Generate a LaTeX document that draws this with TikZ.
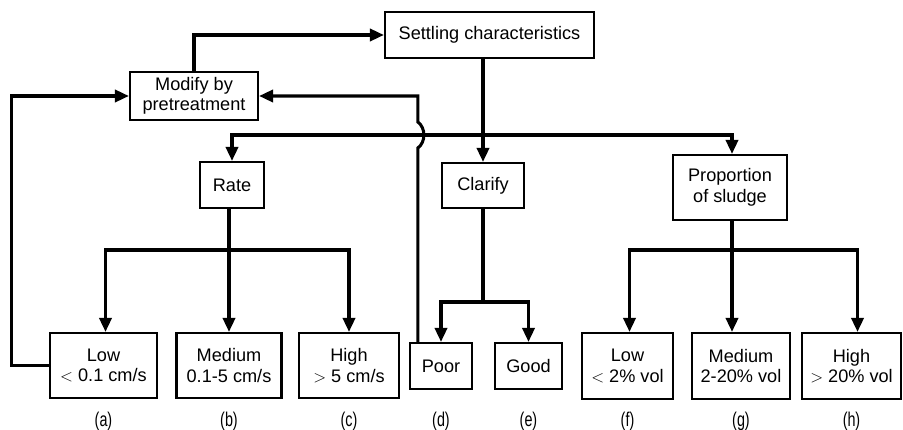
\documentclass[tikz,border=0pt]{standalone}
\usepackage{fontspec}
\setmainfont{Liberation Sans}
\newfontfamily\lblfont[FakeStretch=0.72]{Liberation Sans}
\usepackage{tikz}
\usetikzlibrary{arrows.meta, calc}

\begin{document}
\begin{tikzpicture}[x=0.03cm, y=-0.03cm,
  box/.style={draw, line width=1.9pt, align=center, inner sep=0pt,
    font=\fontsize{15.5}{17.5}\selectfont},
  conn/.style={line width=2.6pt},
  arr/.style={conn, -{Triangle[length=12pt, width=10.5pt]}},
  lbl/.style={font=\lblfont\fontsize{17}{19}\selectfont}]
\useasboundingbox (0,0) rectangle (903,430);
\node[box, minimum width=209*0.03cm, minimum height=46*0.03cm] (set) at (489.5,35) {Settling characteristics};
\node[box, minimum width=128*0.03cm, minimum height=48*0.03cm] (mod) at (194,96) {Modify by\\pretreatment};
\node[box, minimum width=64*0.03cm, minimum height=46*0.03cm] (rate) at (232,185) {Rate};
\node[box, minimum width=82*0.03cm, minimum height=45*0.03cm] (clar) at (483,185.5) {Clarify};
\node[box, minimum width=114*0.03cm, minimum height=65*0.03cm] (prop) at (730,187.5) {Proportion\\of sludge};
\node[box, minimum width=107*0.03cm, minimum height=65*0.03cm] (lowa) at (103.5,365.5) {Low\\$<$ 0.1 cm/s};
\node[box, minimum width=105*0.03cm, minimum height=65*0.03cm] (meda) at (229,365.5) {Medium\\0.1-5 cm/s};
\node[box, minimum width=100*0.03cm, minimum height=65*0.03cm] (higha) at (349,365.5) {High\\$>$ 5 cm/s};
\node[box, minimum width=62*0.03cm, minimum height=46*0.03cm] (poor) at (441,366) {Poor};
\node[box, minimum width=67*0.03cm, minimum height=46*0.03cm] (good) at (528.5,366) {Good};
\node[box, minimum width=91*0.03cm, minimum height=66*0.03cm] (lowf) at (627.5,366) {Low\\$<$ 2\% vol};
\node[box, minimum width=98*0.03cm, minimum height=66*0.03cm] (medf) at (741,366) {Medium\\2-20\% vol};
\node[box, minimum width=99*0.03cm, minimum height=66*0.03cm] (highf) at (851.5,366) {High\\$>$ 20\% vol};
\node[lbl] (la) at (103.5,421) {(a)};
\node[lbl] (lb) at (229,421) {(b)};
\node[lbl] (lc) at (349,421) {(c)};
\node[lbl] (ld) at (441,421) {(d)};
\node[lbl] (le) at (528.5,421) {(e)};
\node[lbl] (lf) at (627.5,421) {(f)};
\node[lbl] (lg) at (741,421) {(g)};
\node[lbl] (lh) at (851.5,421) {(h)};
\coordinate (bus) at (483,135);
\coordinate (rsplit) at (229,250);
\coordinate (csplit) at (483,302);
\coordinate (psplit) at (732,250);
\coordinate (pfb) at ($(poor.north west)+(9,0)$);
\draw[arr] (mod.north) |- (set.west);
\draw[arr] (clar.north |- set.south) -- (clar.north);
\draw[arr] (bus) -| (rate.north);
\draw[arr] (bus) -| ($(prop.north)+(2,0)$);
\draw[conn] (rsplit |- rate.south) -- (rsplit);
\draw[arr] (rsplit) -| ($(lowa.north)+(2,0)$);
\draw[arr] (rsplit) -- (meda.north);
\draw[arr] (rsplit) -| (higha.north);
\draw[conn] (clar.south) -- (csplit);
\draw[arr] (csplit) -| (poor.north);
\draw[arr] (csplit) -| (good.north);
\draw[conn] (psplit |- prop.south) -- (psplit);
\draw[arr] (psplit) -| ($(lowf.north)+(2,0)$);
\draw[arr] (psplit) -- (psplit |- medf.north);
\draw[arr] (psplit) -| ($(highf.north)+(6,0)$);
\draw[arr] (lowa.west) -- ++(-37,0) |- (mod.west);
\draw[arr] (pfb) -- (pfb |- 0,148) .. controls ($(pfb |- 0,142)+(8,0)$) and ($(pfb |- 0,128)+(8,0)$) .. (pfb |- 0,122) -- (pfb |- mod.east) -- (mod.east);
\end{tikzpicture}
\end{document}
